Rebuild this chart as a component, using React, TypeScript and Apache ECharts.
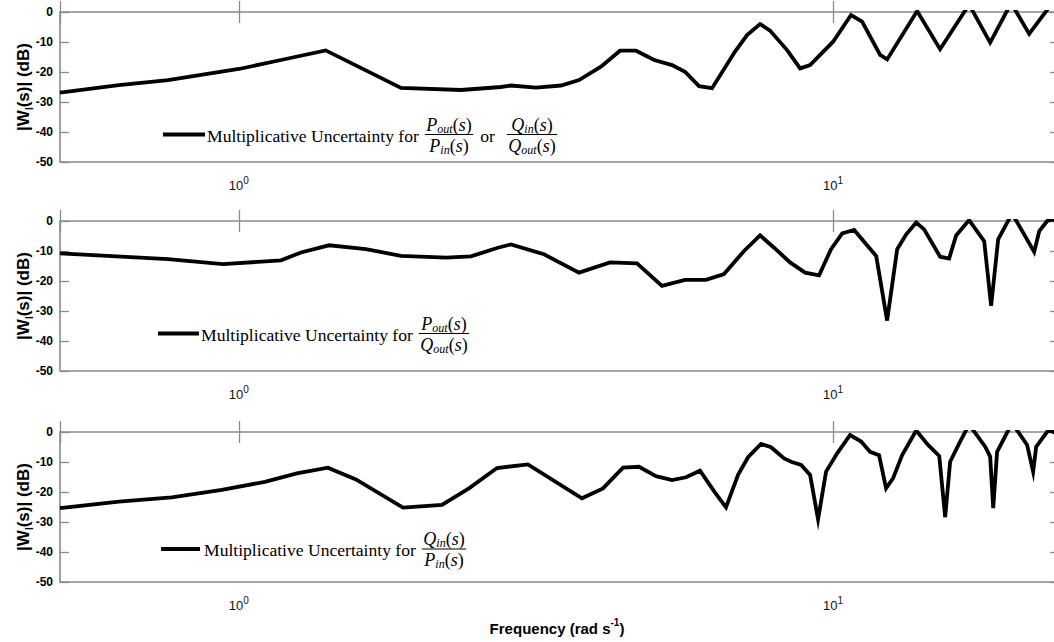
import React, { useEffect, useRef } from "react";
import * as echarts from "echarts";

// ---------- data ----------
const X_MIN = 0.5;
const X_MAX = 24;
const Y_MIN = -50;
const Y_MAX = 0;
const Y_STEP = 10;

// Panel A: Pout/Pin or Qin/Qout
const freqA = [0.5, 0.628, 0.76, 1.0, 1.177, 1.4, 1.874, 2.364, 2.761, 2.87, 3.162, 3.485, 3.736, 4.068, 4.379, 4.66, 5.0, 5.358, 5.634, 5.949, 6.256, 6.839, 7.165, 7.535, 7.833, 8.368, 8.801, 9.148, 10.0, 10.72, 11.19, 12.0, 12.33, 13.85, 15.14, 16.94, 18.38, 19.94, 21.38, 24];
const magA = [-26.9, -24.4, -22.7, -19.0, -16.0, -12.8, -25.3, -26.0, -25.0, -24.5, -25.2, -24.5, -22.7, -18.2, -12.9, -12.9, -16.0, -17.7, -19.9, -24.7, -25.4, -13.2, -7.7, -4.0, -6.2, -12.7, -18.8, -17.7, -9.9, -1.0, -3.2, -14.3, -15.8, 0.3, -12.4, 2.5, -10.2, 3.0, -7.3, 6.0];

// Panel B: Pout/Qout
const freqB = [0.5, 0.76, 0.94, 1.177, 1.272, 1.418, 1.636, 1.874, 2.231, 2.458, 2.719, 2.87, 3.262, 3.736, 4.213, 4.677, 5.153, 5.634, 6.112, 6.553, 7.082, 7.535, 7.956, 8.465, 8.973, 9.471, 9.922, 10.36, 10.85, 11.82, 12.33, 12.82, 13.27, 13.8, 14.23, 15.14, 15.68, 16.11, 16.94, 17.96, 18.45, 18.96, 20.01, 21.8, 22.23, 22.93, 23.47, 24];
const magB = [-10.8, -12.7, -14.4, -13.1, -10.5, -8.1, -9.4, -11.6, -12.2, -11.8, -9.0, -7.8, -11.1, -17.2, -13.8, -14.1, -21.6, -19.6, -19.6, -17.7, -10.0, -4.8, -8.9, -13.8, -17.2, -18.1, -9.4, -4.1, -3.0, -11.7, -33.2, -9.4, -4.5, -0.5, -2.8, -11.9, -12.5, -4.8, 0.3, -6.7, -28.3, -6.1, 2.5, -10.3, -3.4, 0, 0.5, -1];

// Panel C: Qin/Pin
const freqC = [0.5, 0.628, 0.771, 0.936, 1.106, 1.252, 1.412, 1.574, 1.889, 2.197, 2.439, 2.719, 3.065, 3.779, 4.1, 4.431, 4.714, 5.035, 5.358, 5.656, 5.971, 6.329, 6.604, 6.92, 7.193, 7.564, 7.864, 8.272, 8.5, 8.835, 9.148, 9.435, 9.732, 10.16, 10.68, 11.15, 11.54, 11.95, 12.28, 12.62, 13.07, 13.8, 14.45, 15.09, 15.44, 15.74, 16.36, 16.94, 18.03, 18.38, 18.6, 18.88, 20.01, 21.21, 21.71, 21.97, 23.01, 23.5, 24];
const magC = [-25.4, -23.2, -21.8, -19.3, -16.6, -13.8, -11.9, -15.8, -25.2, -24.3, -18.8, -12.0, -10.8, -22.1, -18.8, -11.9, -11.6, -14.7, -16.0, -15.1, -12.9, -20.2, -25.1, -14.3, -8.4, -4.0, -5.1, -8.8, -9.9, -11.0, -14.3, -29.1, -13.2, -7.1, -1.0, -3.2, -6.6, -7.7, -18.8, -15.4, -7.7, 0.5, -4.3, -8.0, -28.4, -9.9, -3.2, 2.5, -4.9, -8.2, -25.4, -6.6, 3.0, -4.3, -13.2, -4.9, 0.5, 0, -1];

const LEGEND_TEXT = "Multiplicative Uncertainty for";
const X_NAME_MAIN = "Frequency (rad s";
const X_NAME_SUP = "-1";

// ---------- layout / style ----------
const GRID_LEFT = 60;
const GRID_WIDTH = 999;
const GRID_HEIGHT = 150;
const GRID_TOPS = [12, 221, 432];
const FRAME = "#8a8a8a";
const SANS = '"Liberation Sans", Arial, sans-serif';
const SERIF = '"Liberation Serif", "Times New Roman", serif';

type Piece = { t: string; size: number; italic?: boolean; bold?: boolean; dy?: number };

let ctx: CanvasRenderingContext2D | null = null;
function fontStr(p: Piece, family: string) {
  return `${p.italic ? "italic" : "normal"} normal ${p.bold ? "bold" : "normal"} ${p.size}px ${family}`;
}
function widthOf(p: Piece, family: string) {
  if (!ctx) ctx = document.createElement("canvas").getContext("2d");
  ctx!.font = fontStr(p, family);
  return ctx!.measureText(p.t).width;
}
function run(pieces: Piece[], x0: number, yMid: number, family: string) {
  const els: any[] = [];
  let x = x0;
  for (const p of pieces) {
    els.push({
      type: "text",
      x,
      y: yMid + (p.dy || 0),
      silent: true,
      z: 100,
      style: {
        text: p.t,
        fontSize: p.size,
        fontFamily: family,
        fontStyle: p.italic ? "italic" : "normal",
        fontWeight: p.bold ? "bold" : "normal",
        fill: "#000",
        align: "left",
        verticalAlign: "middle",
        textAlign: "left",
        textVerticalAlign: "middle",
      },
    });
    x += widthOf(p, family);
  }
  return { els, w: x - x0 };
}
function runWidth(pieces: Piece[], family: string) {
  return pieces.reduce((s, p) => s + widthOf(p, family), 0);
}
function fraction(num: Piece[], den: Piece[], left: number, yBar: number) {
  const wn = runWidth(num, SERIF);
  const wd = runWidth(den, SERIF);
  const w = Math.max(wn, wd) + 3;
  const cx = left + w / 2;
  const a = run(num, cx - wn / 2, yBar - 10, SERIF);
  const b = run(den, cx - wd / 2, yBar + 11, SERIF);
  const bar = {
    type: "line",
    silent: true,
    z: 100,
    shape: { x1: cx - w / 2, y1: yBar, x2: cx + w / 2, y2: yBar },
    style: { stroke: "#000", lineWidth: 1 },
  };
  return { els: [...a.els, ...b.els, bar], w };
}
const M = 18;
const S = 12;
const sym = (letter: string, sub: string): Piece[] => [
  { t: letter, size: M, italic: true },
  { t: sub, size: S, italic: true, dy: 4 },
  { t: "(", size: M },
  { t: "s", size: M, italic: true },
  { t: ")", size: M },
];

function legend(lineX1: number, lineX2: number, textLeft: number, yBar: number, fracs: [Piece[], Piece[]][], textSize: number) {
  const els: any[] = [
    {
      type: "line",
      silent: true,
      z: 100,
      shape: { x1: lineX1, y1: yBar, x2: lineX2, y2: yBar },
      style: { stroke: "#000", lineWidth: 4 },
    },
  ];
  const t = run([{ t: LEGEND_TEXT, size: textSize }], textLeft, yBar + 1, SERIF);
  els.push(...t.els);
  let x = textLeft + t.w + 6;
  fracs.forEach((f, i) => {
    if (i > 0) {
      const o = run([{ t: "or", size: textSize }], x + 3, yBar + 1, SERIF);
      els.push(...o.els);
      x += 3 + o.w + 12;
    }
    const fr = fraction(f[0], f[1], x, yBar);
    els.push(...fr.els);
    x += fr.w + 4;
  });
  return els;
}

function powLabel(v: number) {
  const e = Math.log10(v);
  const r = Math.round(e);
  if (Math.abs(e - r) > 1e-6) return "";
  return `{b|10}{s|${r}}`;
}

function buildOption() {
  const textSize = (18 * 212) / widthOf({ t: LEGEND_TEXT, size: 18 }, SERIF);
  const series = [
    freqA.map((f, i) => [f, magA[i]]),
    freqB.map((f, i) => [f, magB[i]]),
    freqC.map((f, i) => [f, magC[i]]),
  ];
  const grids: any[] = [];
  const xAxes: any[] = [];
  const yAxes: any[] = [];
  const tickStyle = { color: FRAME, width: 1.3 };
  GRID_TOPS.forEach((top, i) => {
    grids.push({
      left: GRID_LEFT,
      top,
      width: GRID_WIDTH,
      height: GRID_HEIGHT,
      show: true,
      borderColor: FRAME,
      borderWidth: 1.6,
      backgroundColor: "transparent",
      containLabel: false,
      outerBoundsMode: "none",
    });
    const xBase = {
      type: "log",
      logBase: 10,
      gridIndex: i,
      min: X_MIN,
      max: X_MAX,
      axisLine: { show: false },
      splitLine: { show: false },
      axisTick: { show: true, inside: true, length: 11, lineStyle: tickStyle },
    };
    xAxes.push({
      ...xBase,
      position: "bottom",
      axisLabel: {
        show: true,
        margin: 13,
        formatter: powLabel,
        rich: {
          b: { fontSize: 13, fontFamily: SANS, color: "#111", lineHeight: 20, verticalAlign: "middle" },
          s: { fontSize: 10, fontFamily: SANS, color: "#111", lineHeight: 11, verticalAlign: "top" },
        },
      },
    });
    xAxes.push({ ...xBase, position: "top", axisLabel: { show: false } });
    const yBase = {
      type: "value",
      gridIndex: i,
      min: Y_MIN,
      max: Y_MAX,
      interval: Y_STEP,
      axisLine: { show: false },
      splitLine: { show: false },
      axisTick: { show: true, inside: true, length: 9, lineStyle: tickStyle },
    };
    yAxes.push({
      ...yBase,
      position: "left",
      axisLabel: { show: true, margin: 7, fontSize: 12, fontWeight: "bold", fontFamily: SANS, color: "#000" },
      name: "{a||W}{b|I}{a|(s)| (dB)}",
      nameLocation: "middle",
      nameGap: 26,
      nameMoveOverlap: false,
      nameRotate: 90,
      nameTextStyle: {
        rich: {
          a: { fontSize: 17, fontWeight: "bold", fontFamily: SANS, color: "#000", lineHeight: 22, verticalAlign: "middle" },
          b: { fontSize: 10, fontWeight: "bold", fontFamily: SANS, color: "#000", lineHeight: 10, verticalAlign: "bottom" },
        },
      },
    });
    yAxes.push({ ...yBase, position: "right", axisLabel: { show: false } });
  });

  const graphics: any[] = [];
  graphics.push(
    ...legend(163, 205, 207, 134.5, [
      [sym("P", "out"), sym("P", "in")],
      [sym("Q", "in"), sym("Q", "out")],
    ], textSize)
  );
  graphics.push(...legend(158, 199, 201, 333.5, [[sym("P", "out"), sym("Q", "out")]], textSize));
  graphics.push(...legend(161, 200, 204, 549, [[sym("Q", "in"), sym("P", "in")]], textSize));

  const xName: Piece[] = [
    { t: X_NAME_MAIN, size: 15, bold: true },
    { t: X_NAME_SUP, size: 10, bold: true, dy: -6 },
    { t: ")", size: 15, bold: true },
  ];
  const wx = runWidth(xName, SANS);
  graphics.push(...run(xName, 557 - wx / 2, 628, SANS).els);

  return {
    animation: false,
    backgroundColor: "#fff",
    grid: grids,
    xAxis: xAxes,
    yAxis: yAxes,
    graphic: graphics,
    series: series.map((d, i) => ({
      type: "line",
      xAxisIndex: 2 * i,
      yAxisIndex: 2 * i,
      data: d,
      showSymbol: false,
      symbol: "none",
      clip: true,
      lineStyle: { color: "#000", width: 3.8, join: "miter", miterLimit: 6 },
      z: 10,
    })),
  };
}

export default function App() {
  const ref = useRef<HTMLDivElement>(null);
  useEffect(() => {
    const chart = echarts.init(ref.current!, null, { renderer: "svg" });
    chart.setOption(buildOption() as any);
    return () => chart.dispose();
  }, []);
  return (
    <div
      ref={ref}
      style={{ position: "fixed", left: 0, top: 0, width: 1054, height: 642, background: "#fff", overflow: "hidden" }}
    />
  );
}
